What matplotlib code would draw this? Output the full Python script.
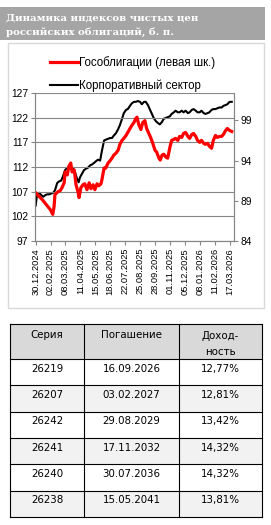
import matplotlib
matplotlib.use("Agg")
import matplotlib.pyplot as plt
import matplotlib.dates as mdates
from matplotlib.lines import Line2D
from matplotlib.patches import Rectangle
import pandas as pd

# Данные (дни от 30.12.2024)
start = pd.Timestamp("2024-12-30")

gov_days = [0, 6, 15, 24, 33, 39, 42, 44, 51, 56, 60, 65, 67, 72, 76, 80, 83, 88, 92, 97,
            99, 103, 108, 112, 117, 122, 126, 131, 135, 140, 144, 149, 151, 156, 160, 165, 169, 174, 178, 183,
            188, 192, 197, 201, 206, 210, 215, 219, 224, 228, 231, 235, 240, 244, 249, 253, 258, 262, 267, 272,
            276, 281, 284, 288, 292, 297, 301, 306, 310, 315, 319, 324, 328, 333, 337, 342, 347, 351, 356, 360,
            365, 369, 374, 378, 383, 387, 392, 396, 401, 405, 410, 414, 419, 424, 428, 433, 437, 442, 447]
gov_vals = [106.8, 106.2, 105.4, 104.4, 103.4, 102.4, 104.0, 106.4, 107.0, 107.2,
            107.8, 108.8, 111.0, 110.4, 112.2, 112.8, 111.0, 111.4, 108.4, 106.8,
            105.8, 107.8, 108.4, 108.6, 107.4, 108.8, 107.6, 108.4, 107.4, 108.6,
            108.2, 108.6, 109.4, 111.8, 111.8, 112.8, 113.2, 113.8, 114.4, 114.8,
            115.4, 116.6, 117.4, 117.8, 118.4, 119.0, 119.8, 120.4, 121.0, 121.8,
            122.1, 120.6, 119.6, 121.0, 121.4, 119.8, 118.8, 118.0, 116.8, 115.4,
            115.0, 113.8, 113.4, 114.4, 114.6, 114.0, 113.8, 116.0, 117.4, 117.6,
            117.8, 117.4, 118.2, 118.0, 118.8, 119.0, 118.2, 117.8, 118.6, 118.8,
            118.2, 117.4, 117.0, 117.4, 116.8, 116.6, 116.8, 116.2, 115.8, 117.4,
            118.4, 118.0, 118.2, 118.2, 118.6, 119.4, 119.8, 119.4, 119.2]

corp_days = [0, 3, 8, 13, 17, 22, 26, 31, 35, 40, 44, 49, 53, 58, 62, 67, 72, 76, 81, 85,
             90, 94, 98, 101, 106, 110, 115, 119, 124, 128, 133, 137, 142, 147, 151, 156, 160, 165, 169, 174,
             178, 183, 188, 192, 197, 201, 206, 210, 215, 219, 224, 228, 233, 238, 242, 247, 251, 256, 260, 265,
             269, 274, 278, 283, 288, 292, 297, 301, 306, 310, 315, 319, 324, 328, 333, 337, 342, 347, 351, 356,
             360, 365, 369, 374, 378, 383, 387, 392, 396, 401, 405, 410, 414, 419, 424, 428, 433, 437, 442, 447]
corp_vals = [88.4, 89.7, 90.0, 89.7, 89.5, 89.7, 89.8, 89.8, 89.9, 90.0,
             90.3, 91.2, 91.4, 91.5, 92.0, 92.8, 93.1, 93.2, 93.0, 93.1,
             92.5, 91.8, 91.3, 91.9, 92.4, 92.8, 93.0, 93.1, 93.4, 93.5,
             93.7, 93.9, 94.1, 94.0, 95.2, 96.5, 96.6, 96.7, 96.8, 96.8,
             97.1, 97.4, 97.9, 98.4, 99.2, 99.9, 100.3, 100.4, 100.8, 101.1,
             101.3, 101.3, 101.4, 101.3, 101.0, 101.3, 101.3, 100.9, 100.4, 99.8,
             99.3, 98.9, 98.7, 98.5, 98.8, 99.2, 99.3, 99.4, 99.5, 99.8,
             100.0, 100.2, 100.0, 100.0, 100.2, 100.0, 100.2, 99.9, 100.0, 100.3,
             100.4, 100.2, 100.0, 100.0, 100.2, 99.9, 99.8, 99.9, 100.0, 100.3,
             100.4, 100.4, 100.5, 100.6, 100.6, 100.8, 100.9, 101.0, 101.3, 101.3]

left_ticks = [97, 102, 107, 112, 117, 122, 127]
right_ticks = [84, 89, 94, 99]

series = ["26219", "26207", "26242", "26241", "26240", "26238"]
maturity = ["16.09.2026", "03.02.2027", "29.08.2029", "17.11.2032", "30.07.2036", "15.05.2041"]
ytm = ["12,77%", "12,81%", "13,42%", "14,32%", "14,32%", "13,81%"]

gov_dates = start + pd.to_timedelta(gov_days, unit="D")
corp_dates = start + pd.to_timedelta(corp_days, unit="D")
date_ticks = pd.date_range(start, periods=14, freq="34D")

plt.rcParams['font.family'] = ['Liberation Sans', 'DejaVu Sans']
W, H = 271, 525
fig = plt.figure(figsize=(W / 100, H / 100), dpi=100)

# фон: заголовок, рамка, таблица (в пикселях)
bg = fig.add_axes([0, 0, 1, 1])
bg.set_xlim(0, W)
bg.set_ylim(H, 0)
bg.axis('off')
bg.add_patch(Rectangle((0, 7), 265, 33, color='#a5a5a5', lw=0))
bg.text(6, 20, "Динамика индексов чистых цен", color='white', fontsize=7.3,
        fontweight='bold', family='DejaVu Serif', va='baseline')
bg.text(6, 34.5, "российских облигаций, б. п.", color='white', fontsize=7.3,
        fontweight='bold', family='DejaVu Serif', va='baseline')
bg.add_patch(Rectangle((8, 43), 256, 265, fill=False, ec='#d9d9d9', lw=1))

# таблица
tx0, tx1 = 10, 262
cols = [10, 84, 179, 262]
centers = [(cols[i] + cols[i + 1]) / 2 for i in range(3)]
head_top, head_bot = 324, 359
row_h = (517 - head_bot) / len(series)
bg.add_patch(Rectangle((tx0, head_top), tx1 - tx0, head_bot - head_top, color='#d9d9d9', lw=0))
for i in range(len(series)):
    top = head_bot + i * row_h
    if i % 2 == 1:
        bg.add_patch(Rectangle((tx0, top), tx1 - tx0, row_h, color='#f2f2f2', lw=0))
    for c, txt in zip(centers, [series[i], maturity[i], ytm[i]]):
        bg.text(c, top + 12.8, txt, ha='center', va='baseline', fontsize=7.4, family='DejaVu Sans')
for c, txt in zip(centers[:2], ["Серия", "Погашение"]):
    bg.text(c, 338.5, txt, ha='center', va='baseline', fontsize=7.4, family='DejaVu Sans')
bg.text(centers[2], 338.5, "Доход-", ha='center', va='baseline', fontsize=7.4, family='DejaVu Sans')
bg.text(centers[2], 355, "ность", ha='center', va='baseline', fontsize=7.4, family='DejaVu Sans')
ys = [head_top, head_bot] + [head_bot + (i + 1) * row_h for i in range(len(series))]
for y in ys:
    bg.plot([tx0, tx1], [y, y], color='black', lw=0.8)
for x in cols:
    bg.plot([x, x], [head_top, ys[-1]], color='black', lw=0.8)

# график
ax = fig.add_axes([35 / W, 1 - 241 / H, (233.5 - 35) / W, (241 - 93) / H])
ax2 = ax.twinx()
ax.set_zorder(ax2.get_zorder() + 1)
ax.patch.set_visible(False)

ax2.plot(corp_dates, corp_vals, color='black', lw=1.5)
ax.plot(gov_dates, gov_vals, color='#ff0000', lw=2.3)

ax.set_ylim(97, 127)
ax.set_yticks(left_ticks)
ax2.set_ylim(84, 102.4)
ax2.set_yticks(right_ticks)
ax.set_xlim(start - pd.Timedelta(days=1.5), start + pd.Timedelta(days=451))
ax.set_xticks(date_ticks)
ax.xaxis.set_major_formatter(mdates.DateFormatter('%d.%m.%Y'))
plt.setp(ax.get_xticklabels(), rotation=90)
ax.grid(axis='y', color='#868686', lw=0.8)
ax.set_axisbelow(True)

for a in (ax, ax2):
    for s in a.spines.values():
        s.set_color('#868686')
        s.set_linewidth(0.8)
    a.spines['top'].set_visible(False)
    a.tick_params(color='#868686', length=3, width=0.8, labelsize=7.4, pad=2)
ax.tick_params(axis='x', labelsize=6.7, pad=2)

handles = [Line2D([], [], color='#ff0000', lw=2.3), Line2D([], [], color='black', lw=1.5)]
fig.legend(handles, ["Гособлигации (левая шк.)", "Корпоративный сектор"],
           loc='upper left', bbox_to_anchor=(50 / W, 1 - 56 / H), frameon=False,
           fontsize=8.3, handlelength=2.4, handletextpad=0.12, labelspacing=0.95,
           borderpad=0, borderaxespad=0)

fig.savefig("out.png", dpi=100)
